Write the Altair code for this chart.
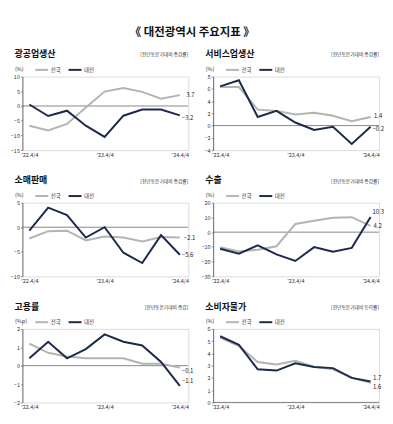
import json
import altair as alt
import pandas as pd

# ---------------- data ----------------
quarters = ["'22.4/4", "'23.1/4", "'23.2/4", "'23.3/4", "'23.4/4",
            "'24.1/4", "'24.2/4", "'24.3/4", "'24.4/4"]
tick_idx = [0, 4, 8]
series_names = ["전국", "대전"]

main_title = "《 대전광역시 주요지표 》"
titles = ["광공업생산", "서비스업생산", "소매판매", "수출", "고용률", "소비자물가"]
notes = ["[전년동분기대비 증감률]"] * 4 + ["[전년동분기대비 증감]", "[전년동분기대비 등락률]"]
units = ["(%)"] * 4 + ["(%p)", "(%)"]

nation_mining = [-6.7, -8.3, -6.1, -0.5, 4.9, 6.1, 4.8, 2.5, 3.7]
daejeon_mining = [0.5, -3.4, -1.6, -6.7, -10.5, -3.3, -1.2, -1.2, -3.2]
nation_service = [6.3, 6.3, 2.6, 2.4, 1.8, 2.1, 1.6, 0.7, 1.4]
daejeon_service = [6.4, 7.4, 1.4, 2.4, 0.5, -0.7, -0.2, -3.0, -0.2]
nation_retail = [-2.3, -0.8, -0.7, -2.7, -1.9, -2.1, -2.9, -2.0, -2.1]
daejeon_retail = [-0.7, 4.0, 2.5, -2.1, 0.0, -5.2, -7.3, -1.6, -5.6]
nation_export = [-10.2, -13.1, -12.0, -9.6, 5.6, 7.8, 9.8, 10.2, 4.2]
daejeon_export = [-11.3, -14.7, -8.9, -15.1, -19.6, -10.2, -13.3, -10.7, 10.3]
nation_employ = [1.2, 0.7, 0.5, 0.4, 0.4, 0.4, 0.1, 0.1, -0.1]
daejeon_employ = [0.4, 1.3, 0.4, 0.9, 1.7, 1.3, 1.1, 0.2, -1.1]
nation_cpi = [5.3, 4.6, 3.3, 3.1, 3.4, 2.9, 2.7, 2.0, 1.6]
daejeon_cpi = [5.4, 4.7, 2.7, 2.6, 3.2, 2.9, 2.8, 2.0, 1.7]

y_domains = [[-15, 10], [-4, 8], [-10, 5], [-30, 20], [-2, 2], [0, 6]]
y_steps = [5, 2, 5, 10, 1, 1]

# ---------------- style ----------------
W, H = 167, 74
FONT = "Noto Sans CJK KR"
GRAY = "#b4b4b4"
NAVY = "#1d2b4b"

# end-label offsets (dx, dy) per panel, per series
label_offsets = [
    {"전국": (6.5, 0), "대전": (2, 2.7)},
    {"전국": (3.5, -1), "대전": (2, 2)},
    {"전국": (4, 0), "대전": (2, 0)},
    {"전국": (3, 0), "대전": (2, -5.5)},
    {"전국": (2, 4), "대전": (2, -4.7)},
    {"전국": (2.5, 4.7), "대전": (2.5, -4)},
]


def panel(i, nation, daejeon):
    df = pd.DataFrame({
        "idx": list(range(len(quarters))) * 2,
        "quarter": quarters * 2,
        "series": [series_names[0]] * len(nation) + [series_names[1]] * len(daejeon),
        "value": nation + daejeon,
    })
    lo, hi = y_domains[i]
    yvals = list(range(lo, hi + 1, y_steps[i]))

    x = alt.X("idx:Q",
              scale=alt.Scale(domain=[-0.37, 8.45], nice=False, zero=False),
              axis=alt.Axis(values=tick_idx, labelExpr=json.dumps(quarters) + "[datum.value]",
                            domain=False, ticks=False, grid=False, title=None,
                            labelFontSize=5.5, labelPadding=2.5, labelColor="#333",
                            labelFlush=False, labelOverlap=False))
    y = alt.Y("value:Q",
              scale=alt.Scale(domain=[lo, hi], nice=False, zero=False),
              axis=alt.Axis(values=yvals, grid=False, title=units[i], titleAngle=0,
                            titleX=-8, titleY=-8, titleAlign="left", titleBaseline="middle",
                            titleFontSize=5.5, titleFontWeight="normal", titleColor="#333",
                            labelFontSize=5.5, labelColor="#333", labelPadding=1,
                            labelOverlap=False, labelFlush=False, labelBound=False,
                            tickSize=2, tickColor="#555", domainColor="#555",
                            domainWidth=0.8, tickWidth=0.6))
    color = alt.Color("series:N",
                      scale=alt.Scale(domain=series_names, range=[GRAY, NAVY]),
                      legend=alt.Legend(orient="none", legendX=12, legendY=-14.5,
                                        direction="horizontal", title=None,
                                        symbolType="stroke", symbolSize=169,
                                        symbolStrokeWidth=2, labelFontSize=5.5,
                                        labelColor="#333", labelOffset=1.5,
                                        columnPadding=3.5, padding=0))

    base = alt.Chart(df).encode(x=x, y=y, color=color)
    # zero reference line: one row of the data with its value set to the baseline 0
    zero = alt.Chart(df).transform_filter(alt.datum.idx == 0).transform_filter(
        alt.datum.series == series_names[0]
    ).transform_calculate(value="0").mark_rule(
        color="#555", strokeWidth=0.7).encode(y=y)
    nat_line = base.transform_filter(alt.datum.series == series_names[0]).mark_line(strokeWidth=2)
    dj_line = base.transform_filter(alt.datum.series == series_names[1]).mark_line(strokeWidth=2)

    layers = [zero, nat_line, dj_line]
    for s in series_names:
        dx, dy = label_offsets[i][s]
        layers.append(
            alt.Chart(df).transform_filter(
                (alt.datum.series == s) & (alt.datum.idx == len(quarters) - 1)
            ).mark_text(align="left", baseline="middle", dx=dx, dy=dy,
                        fontSize=6, color="#222").encode(
                x=x, y=y, text=alt.Text("value:Q", format=".1f"))
        )

    title_mark = alt.Chart(pd.DataFrame({"t": [titles[i]]})).mark_text(
        align="left", baseline="middle", fontSize=9, fontWeight="bold", color="#111"
    ).encode(x=alt.value(-8), y=alt.value(-22.5), text="t:N")
    note_mark = alt.Chart(pd.DataFrame({"t": [notes[i]]})).mark_text(
        align="right", baseline="middle", fontSize=4.8, color="#333"
    ).encode(x=alt.value(W), y=alt.value(-21.3), text="t:N")
    layers += [title_mark, note_mark]

    return alt.layer(*layers).properties(width=W, height=H)


panels = [
    panel(0, nation_mining, daejeon_mining),
    panel(1, nation_service, daejeon_service),
    panel(2, nation_retail, daejeon_retail),
    panel(3, nation_export, daejeon_export),
    panel(4, nation_employ, daejeon_employ),
    panel(5, nation_cpi, daejeon_cpi),
]

chart = alt.concat(
    *panels, columns=2, bounds="flush",
    spacing=alt.RowColnumber(row=53, column=25),
).resolve_scale(color="independent").properties(
    title=alt.TitleParams(text=main_title, anchor="middle", fontSize=11.5, font=FONT,
                          fontWeight="bold", color="#111", offset=11.5, dx=-5),
    padding={"left": 1.5, "top": 17.7, "right": 0, "bottom": 0},
).configure_view(stroke=None).configure(font=FONT).configure_axis(
    labelFont=FONT, titleFont=FONT
).configure_legend(labelFont=FONT).configure_text(font=FONT)

chart.save("out.html", embed_options={"renderer": "svg", "actions": False})
